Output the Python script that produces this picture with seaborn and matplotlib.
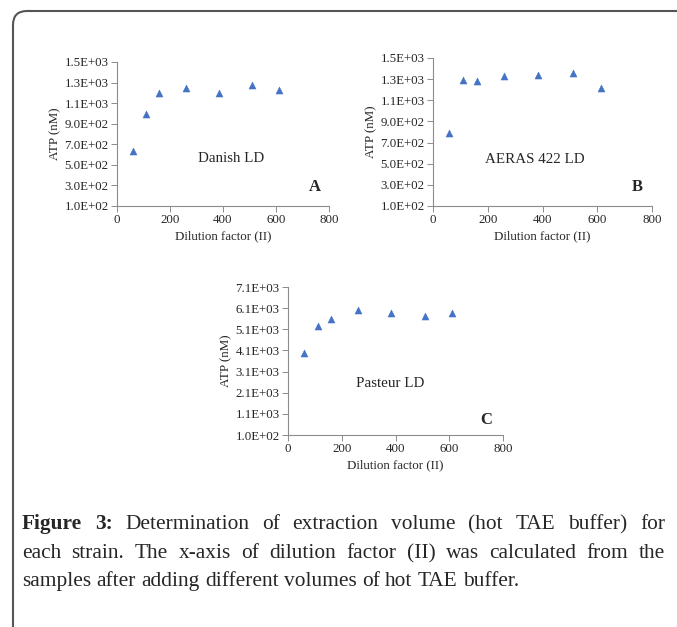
import matplotlib
matplotlib.use('Agg')
import matplotlib.pyplot as plt
import seaborn as sns
import pandas as pd
from matplotlib.patches import FancyBboxPatch
from matplotlib.transforms import IdentityTransform

# --- dados ---
diluicao = [60, 110, 160, 260, 384, 511, 612]
atp_danish = [631, 995, 1197, 1243, 1197, 1279, 1223]
atp_aeras = [794, 1294, 1278, 1326, 1335, 1357, 1212]
atp_pasteur = [3990, 5250, 5580, 6000, 5860, 5750, 5860]

yticks_ab = [100, 300, 500, 700, 900, 1100, 1300, 1500]
yticks_c = [100, 1100, 2100, 3100, 4100, 5100, 6100, 7100]
xticks = [0, 200, 400, 600, 800]

sns.set_style('white')
plt.rcParams['font.family'] = ['Liberation Serif', 'DejaVu Serif']

AZUL = '#4472C4'
CINZA = '#8c8c8c'
W, H = 677, 627

fig = plt.figure(figsize=(6.77, 6.27), dpi=100)


def painel(rect, y, yticks, nome, pos_nome, letra, pos_letra):
    ax = fig.add_axes(rect)
    df = pd.DataFrame({'x': diluicao, 'y': y})
    sns.scatterplot(data=df, x='x', y='y', marker='^', s=26, color=AZUL,
                    edgecolor=AZUL, linewidth=0.3, ax=ax)
    ax.set_xlim(0, 800)
    ax.set_ylim(yticks[0], yticks[-1])
    ax.set_xticks(xticks)
    ax.set_yticks(yticks)
    ax.set_yticklabels([f'{v:.1E}' for v in yticks])
    ax.tick_params(labelsize=9.3, length=4, width=0.7, color=CINZA, pad=2,
                   direction='out', left=True, bottom=True)
    for lado in ['top', 'right']:
        ax.spines[lado].set_visible(False)
    for lado in ['left', 'bottom']:
        ax.spines[lado].set_color(CINZA)
        ax.spines[lado].set_linewidth(0.8)
    ax.set_xlabel('Dilution factor (II)', fontsize=9.4, labelpad=3)
    ax.set_ylabel('ATP (nM)', fontsize=9.4, labelpad=2)
    ax.text(pos_nome[0], pos_nome[1], nome, fontsize=10.8, ha='center', va='center')
    ax.text(pos_letra[0], pos_letra[1], letra, fontsize=12, fontweight='bold',
            ha='center', va='center')
    return ax


painel([0.1728, 0.6715, 0.3131, 0.2297], atp_danish, yticks_ab,
       'Danish LD', (432, 562), 'A', (746, 285))
painel([0.6396, 0.6715, 0.3235, 0.2360], atp_aeras, yticks_ab,
       'AERAS 422 LD', (372, 540), 'B', (747, 280))
painel([0.4254, 0.3062, 0.3176, 0.2360], atp_pasteur, yticks_c,
       'Pasteur LD', (380, 2518), 'C', (738, 822))

# moldura (esquerda e topo, canto arredondado)
moldura = FancyBboxPatch((13, -60), 720, 616 + 60, boxstyle='round,pad=0,rounding_size=14',
                         transform=IdentityTransform(), facecolor='none',
                         edgecolor='#555555', linewidth=1.5)
fig.patches.append(moldura)

# legenda da figura, com as duas primeiras linhas justificadas
fs = 15.4
x0, x1 = 22, 665
renderer = fig.canvas.get_renderer()

linhas = [
    ([('Figure', 'bold'), ('3:', 'bold'), ('Determination', 'normal'), ('of', 'normal'),
      ('extraction', 'normal'), ('volume', 'normal'), ('(hot', 'normal'), ('TAE', 'normal'),
      ('buffer)', 'normal'), ('for', 'normal')], 529, True),
    ([(p, 'normal') for p in
      'each strain. The x-axis of dilution factor (II) was calculated from the'.split()], 558, True),
    ([(p, 'normal') for p in
      'samples after adding different volumes of hot TAE buffer.'.split()], 586, False),
]

tmp1 = fig.text(0, 0, 'a a', fontsize=fs)
tmp2 = fig.text(0, 0, 'aa', fontsize=fs)
espaco_nat = tmp1.get_window_extent(renderer).width - tmp2.get_window_extent(renderer).width
tmp1.remove()
tmp2.remove()

for palavras, ypx, justificar in linhas:
    textos = [fig.text(0, 1 - ypx / H, p, fontsize=fs, fontweight=peso, va='baseline')
              for p, peso in palavras]
    larguras = [t.get_window_extent(renderer).width for t in textos]
    espaco = espaco_nat
    if justificar:
        espaco = (x1 - x0 - sum(larguras)) / (len(textos) - 1)
    x = x0
    for t, w in zip(textos, larguras):
        t.set_x(x / W)
        x += w + espaco

fig.savefig('out.png', dpi=100)
